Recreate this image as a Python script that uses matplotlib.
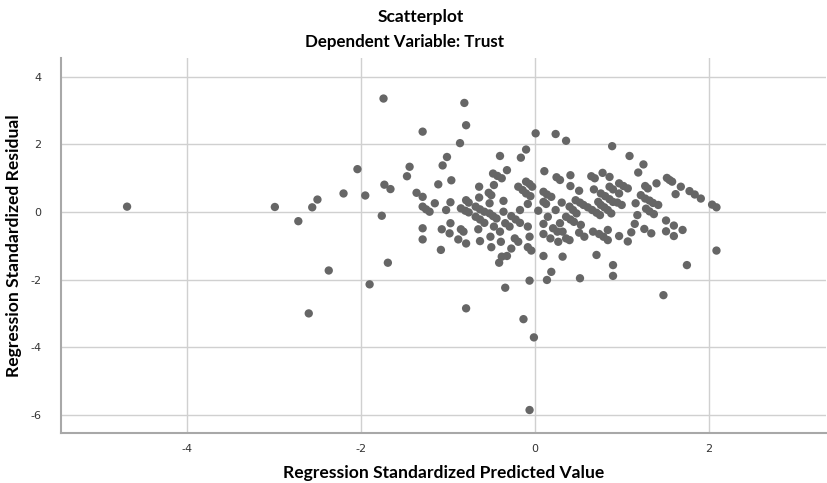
import matplotlib
matplotlib.use("Agg")
import matplotlib.pyplot as plt

title_main = "Scatterplot"
title_sub = "Dependent Variable: Trust"
x_label = "Regression Standardized Predicted Value"
y_label = "Regression Standardized Residual"
x_ticks = [-4, -2, 0, 2]
y_ticks = [4, 2, 0, -2, -4, -6]

pred = [
    -4.69, -2.99, -2.72, -2.56, -2.50, -2.37, -2.60, -2.20, -2.04, -1.95, -1.90, -1.76, -1.74, -1.73, -1.66, -1.69,
    -1.29, -0.81, -0.79, -0.86, -1.01, -0.40, -0.16, -0.10,
    -1.44, -1.47, -1.06, -1.11, -0.96, -1.36, -1.29, -1.29, -1.25, -1.21, -1.15, -1.02, -0.97,
    -0.85, -0.80, -0.76, -0.79, -0.76, -0.64, -0.64, -0.68, -0.63, -0.58, -0.68, -0.63, -0.58,
    -0.53, -0.50, -0.47, -0.48, -0.43, -0.38, -0.32, -0.52, -0.36, -0.52, -0.48, -0.44, -0.36,
    -0.47, -0.65, -0.85, -0.82, -0.97, -1.07, -0.98, -1.29, -1.29, -0.88, -0.79, -0.63,
    -0.51, -0.50, -0.40, -0.39, -0.34, -0.29, -0.27, -0.22, -0.17, -0.23, -0.19, -0.17,
    -0.19, -0.14, -0.10, -0.05, -0.10, -0.06, -0.03, -0.08, -0.08, -0.06, -0.08, -1.08,
    -0.41, -0.38, -0.32, -0.27, -0.04, -0.06, -0.34, -0.79, -0.13, -0.01, -0.06,
    0.11, 0.25, 0.29, 0.41, 0.41, 0.10, 0.14, 0.19, 0.10, 0.13, 0.04, 0.31, 0.24, 0.15, 0.51,
    0.47, 0.52, 0.56, 0.61, 0.66, 0.71, 0.75, 0.40, 0.44, 0.48, 0.36, 0.41, 0.45,
    0.65, 0.69, 0.68, 0.78, 0.86, 0.76, 0.81, 0.86, 0.90, 0.73, 0.76, 0.80, 0.84, 0.88,
    0.86, 0.90, 0.97, 1.02, 1.07, 0.97, 0.95, 1.00, 0.97, 0.84, 0.84, 0.74, 0.79, 0.67,
    0.53, 0.57, 0.51, 0.36, 0.40, 0.29, 0.32, 0.21, 0.26, 0.27, 0.18, 0.10, 0.10, 0.10, 0.32,
    0.01, 0.24, 0.36, 0.89, 1.09,
    0.71, 0.90, 0.90, 0.52, 0.19, 0.14,
    1.19, 1.25, 1.27, 1.30, 1.40, 1.22, 1.27, 1.32, 1.36, 1.42, 1.16, 1.28, 1.32, 1.37, 1.18,
    1.52, 1.55, 1.58, 1.68, 1.62, 1.78, 1.84, 1.91, 2.04, 2.09, 1.15, 1.11, 1.26, 1.34, 1.07,
    1.51, 1.60, 1.70, 1.51, 1.60, 2.09, 1.75, 1.48,
]

resid = [
    0.16, 0.15, -0.27, 0.14, 0.37, -1.73, -3.00, 0.55, 1.27, 0.49, -2.14, -0.11, 3.36, 0.81, 0.68, -1.50,
    2.38, 3.23, 2.57, 2.04, 1.63, 1.66, 1.61, 1.85,
    1.34, 1.06, 1.38, 0.82, 0.94, 0.57, 0.45, 0.16, 0.08, 0.01, 0.26, 0.06, 0.29,
    0.11, 0.04, -0.01, 0.35, 0.28, 0.75, 0.43, 0.16, 0.08, 0.01, -0.14, -0.22, -0.32,
    0.57, 0.50, 0.80, 1.14, 1.07, 1.00, 1.24, 0.26, 0.33, -0.04, -0.12, -0.19, 0.01,
    -0.43, -0.51, -0.51, -0.58, -0.33, -0.51, -0.63, -0.48, -0.81, -0.81, -0.93, -0.86,
    -0.73, -1.04, -0.58, -0.88, -0.33, -0.43, -0.12, -0.22, -0.32, -0.78, -0.88, 0.06,
    0.75, 0.65, 0.55, 0.47, 0.90, 0.83, 0.75, 0.24, -0.43, -0.73, -1.04, -1.12,
    -1.50, -1.32, -1.30, -1.08, -1.14, -2.03, -2.24, -2.85, -3.17, -3.71, -5.86,
    1.21, 1.03, 0.95, 1.09, 0.77, 0.60, 0.52, 0.45, 0.30, 0.24, 0.04, 0.28, 0.06, -0.14, 0.63,
    0.35, 0.28, 0.21, 0.14, 0.06, -0.02, -0.09, 0.16, 0.06, -0.04, -0.14, -0.22, -0.29,
    1.06, 1.00, 0.67, 1.16, 1.04, 0.55, 0.47, 0.38, 0.30, 0.30, 0.21, 0.14, 0.06, -0.04,
    0.75, 0.67, 0.85, 0.77, 0.70, 0.55, 0.28, 0.21, -0.71, -0.53, -0.83, -0.65, -0.73, -0.58,
    -0.38, -0.73, -0.61, -0.78, -0.83, -0.33, -0.58, -0.48, -0.58, -0.88, -0.78, -0.35, -0.65, -1.30, -1.32,
    2.33, 2.31, 2.11, 1.95, 1.66,
    -1.27, -1.57, -1.89, -1.96, -1.77, -2.01,
    1.17, 1.41, 0.77, 0.70, 0.85, 0.50, 0.40, 0.34, 0.27, 0.21, 0.26, 0.10, 0.02, -0.06, -0.09,
    1.01, 0.95, 0.90, 0.75, 0.53, 0.62, 0.52, 0.40, 0.22, 0.14, -0.35, -0.60, -0.50, -0.63, -0.87,
    -0.25, -0.40, -0.53, -0.57, -0.71, -1.14, -1.57, -2.46,
]

fig = plt.figure(figsize=(8.28, 4.83), dpi=100)
ax = fig.add_axes([61 / 828, 50 / 483, (826 - 61) / 828, (433 - 58) / 483])

ax.scatter(pred, resid, s=36, color="#666666", edgecolors="none", zorder=3)

ax.set_xlim(-5.45, 3.35)
ax.set_ylim(-6.54, 4.56)
ax.set_xticks(x_ticks)
ax.set_yticks(y_ticks)
ax.set_xticklabels([str(t) for t in x_ticks])
ax.set_yticklabels([str(t) for t in y_ticks])
ax.grid(True, color="#d0d0d0", linewidth=1.0, zorder=0)
ax.set_axisbelow(True)
ax.tick_params(axis="both", length=0, labelsize=8, colors="#333333", pad=8)
ax.tick_params(axis="y", pad=14)
for side in ["top", "right"]:
    ax.spines[side].set_visible(False)
for side in ["left", "bottom"]:
    ax.spines[side].set_color("#a8a8a8")
    ax.spines[side].set_linewidth(1.5)

font = "Lato"
ax.set_xlabel(x_label, fontsize=12.6, fontweight="bold", family=font, labelpad=8)
ax.set_ylabel(y_label, fontsize=12.6, fontweight="bold", family=font, labelpad=6)
fig.text(421 / 828, 1 - 17 / 483, title_main, ha="center", va="center", fontsize=12.5, fontweight="bold", family=font)
fig.text(405 / 828, 1 - 42 / 483, title_sub, ha="center", va="center", fontsize=12.2, fontweight="bold", family=font)

fig.savefig("out.png", dpi=100)
